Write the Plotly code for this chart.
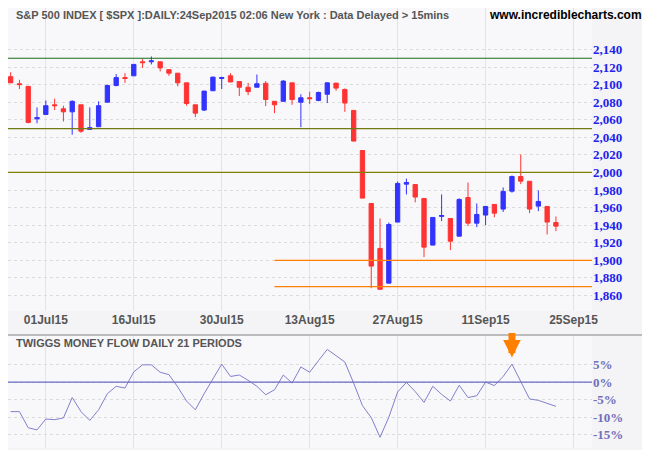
import plotly.graph_objects as go

opens = [2109, 2101, 2098, 2061, 2066, 2077, 2072.5, 2069, 2077, 2049, 2052, 2080, 2099, 2108, 2110, 2126,
         2126, 2126, 2117, 2113, 2102, 2077, 2071, 2093, 2107, 2110, 2103.5, 2097, 2097, 2101.5, 2081, 2081,
         2102, 2080, 2085, 2082, 2089, 2101.7, 2094.5, 2070.6, 2025, 1964.7, 1913.5, 1874, 1943.5, 1986.7,
         1986.3, 1970.4, 1917.3, 1950, 1947.6, 1927.5, 1971.5, 1942.3, 1951.5, 1963.6, 1958.3, 1978.7, 1995.4,
         1990, 1961.7, 1961.3, 1943]
highs = [2114, 2105.5, 2098, 2074, 2082, 2084, 2076, 2082, 2077, 2074, 2081, 2100, 2112, 2113, 2123, 2129,
         2132, 2126, 2117, 2113, 2102, 2077, 2093, 2109, 2109, 2113, 2103.5, 2102, 2111.5, 2104, 2081, 2105,
         2102, 2089, 2092, 2092, 2102.5, 2101.7, 2095.6, 2070.6, 2025, 1964.7, 1947.6, 1943, 1989.7, 1993,
         1986.3, 1970.4, 1948.8, 1975, 1947.6, 1970.5, 1988.6, 1964.7, 1961.3, 1963.6, 1982.9, 1996.5, 2020.5,
         1990, 1979.5, 1961.3, 1949.9]
lows = [2102, 2095, 2056, 2056, 2066, 2071, 2058, 2043, 2045, 2049, 2052, 2080, 2098, 2102, 2110, 2119,
        2123, 2115, 2110, 2098, 2076, 2063, 2070, 2093, 2095, 2103, 2087, 2088, 2097, 2075.5, 2067.5, 2081,
        2077, 2051.6, 2078, 2081, 2079, 2093, 2069, 2035.7, 1970.8, 1868.3, 1867, 1874, 1943.5, 1975,
        1966, 1903.6, 1917.3, 1944.6, 1911.6, 1927.5, 1938.9, 1937.8, 1940, 1949, 1955, 1977, 1986.7,
        1953.7, 1956, 1929.4, 1933.2]
closes = [2102, 2100, 2057, 2062.5, 2076, 2076, 2069, 2081, 2047, 2051, 2076, 2099, 2108, 2107, 2123, 2125,
          2127, 2119, 2113, 2102, 2078.5, 2067.5, 2092.6, 2108.5, 2108, 2103, 2097, 2092, 2101, 2083, 2077, 2104,
          2083, 2085, 2084, 2091, 2102, 2096, 2079, 2035.7, 1970.8, 1893.4, 1867, 1940.8, 1987.5, 1988.6,
          1972, 1915, 1948.8, 1951, 1921.8, 1969.3, 1942.3, 1952.2, 1961.3, 1953.7, 1978.4, 1995.4, 1990.1,
          1958.3, 1967, 1943.5, 1938.9]
money_flow = [-8.4, -8.4, -13.0, -13.6, -10.5, -10.7, -10.2, -4.4, -8.4, -10.9, -7.9, -3.3, -1.2, -1.7, 2.9,
              4.9, 4.9, 2.8, 2.1, -1.4, -5.4, -7.9, -3.3, 0.9, 5.1, 1.6, 2.0, 0.5, -1.2, -3.6, -2.2, 2.0, -0.3,
              4.3, 2.8, 6.1, 9.3, 7.5, 5.7, -0.3, -6.7, -10.1, -15.7, -10.0, -2.8, -0.1, -2.7, -5.8, -1.2,
              -3.5, -5.4, -0.9, -4.4, -3.9, 0.0, -1.0, 1.6, 5.1, 0.2, -4.8, -5.2, -6.0, -6.9]
tick_idx = [4, 14, 24, 34, 44, 54, 64]
tick_text = ["01Jul15", "16Jul15", "30Jul15", "13Aug15", "27Aug15", "11Sep15", "25Sep15"]
price_ticks = list(range(1860, 2141, 20))
mf_ticks = [5, 0, -5, -10, -15]
mf_text = ["5%", "0%", "-5%", "-10%", "-15%"]
full_lines = [(2130, "#1a6b1a"), (2050, "#707a10"), (2000, "#808000")]
support_lines = [1900, 1870]
support_start = 30
arrow_idx = 57

# the page adds an 8px body margin, so the figure is 8px smaller and everything is laid out shifted
W, H = 642, 442
PW = 584
idx = list(range(len(closes)))
xr = [-0.3, 66.1]

fig = go.Figure()
fig.add_trace(go.Candlestick(
    x=idx, open=opens, high=highs, low=lows, close=closes,
    increasing=dict(line=dict(color="#3333ff", width=1), fillcolor="#3333ff"),
    decreasing=dict(line=dict(color="#ff3333", width=1), fillcolor="#ff3333"),
    whiskerwidth=0, showlegend=False, xaxis="x", yaxis="y"))
fig.add_trace(go.Scatter(x=idx, y=money_flow, mode="lines", line=dict(color="#8080cc", width=1),
                         showlegend=False, xaxis="x2", yaxis="y2"))

for lvl, col in full_lines:
    fig.add_shape(type="line", xref="x", yref="y", x0=xr[0], x1=xr[1], y0=lvl, y1=lvl,
                  line=dict(color=col, width=1.2))
for lvl in support_lines:
    fig.add_shape(type="line", xref="x", yref="y", x0=support_start, x1=xr[1], y0=lvl, y1=lvl,
                  line=dict(color="#ff8000", width=1.2))
fig.add_shape(type="line", xref="x2", yref="y2", x0=xr[0], x1=xr[1], y0=0, y1=0,
              line=dict(color="#6a6ac4", width=1.2))
fig.add_shape(type="line", xref="paper", yref="paper", x0=0, x1=W / PW, y0=1 - 327 / H, y1=1 - 327 / H,
              line=dict(color="#aaaaaa", width=1.5))

fig.add_annotation(xref="x2", yref="y2", x=arrow_idx, y=7.0, ax=0, ay=-26, showarrow=True,
                   arrowcolor="#ff8000", arrowwidth=7, arrowhead=2, arrowsize=0.5, text="")

grid = dict(showgrid=True, gridcolor="#e4e4e8", zeroline=False)
fig.update_layout(
    width=W, height=H, margin=dict(l=0, r=W - PW, t=0, b=0),
    paper_bgcolor="#f4f4f6", plot_bgcolor="#f8f8fa",
    font=dict(family="Liberation Sans, Arial", size=12),
    xaxis=dict(domain=[0, 1], range=xr, tickvals=tick_idx, ticktext=["<b>%s</b>" % t for t in tick_text],
               rangeslider=dict(visible=False), tickfont=dict(color="#555555", size=12), ticks="",
               anchor="y", **grid),
    yaxis=dict(domain=[1 - 303 / H, 1], range=[1842.3, 2187.2], side="right",
               tickvals=price_ticks, ticktext=["<b>{:,}</b>".format(v) for v in price_ticks],
               tickfont=dict(color="#2222ee", size=13, family="Liberation Serif, serif"),
               showgrid=True, gridcolor="#dcdcdc", griddash="dot", zeroline=False, anchor="x"),
    xaxis2=dict(domain=[0, 1], range=xr, tickvals=tick_idx, showticklabels=False, anchor="y2", **grid),
    yaxis2=dict(domain=[1 - 440 / H, 1 - 328 / H], range=[-18.75, 13.1], side="right",
                tickvals=mf_ticks, ticktext=["<b>%s</b>" % t for t in mf_text],
                tickfont=dict(color="#7070b8", size=13, family="Liberation Serif, serif"),
                showgrid=True, gridcolor="#dcdcdc", griddash="dot", zeroline=False, anchor="x2"),
)
fig.add_annotation(xref="paper", yref="paper", x=6 / PW, y=1 - 7 / H, xanchor="left", yanchor="middle",
                   showarrow=False, text="<b>S&P 500 INDEX [ $SPX ]:DAILY:24Sep2015 02:06 New York : Data Delayed > 15mins</b>",
                   font=dict(color="#555555", size=11))
fig.add_annotation(xref="paper", yref="paper", x=636 / PW, y=1 - 7 / H, xanchor="right", yanchor="middle",
                   showarrow=False, text="<b>www.incrediblecharts.com</b>", font=dict(color="#000000", size=12))
fig.add_annotation(xref="paper", yref="paper", x=6 / PW, y=1 - 335 / H, xanchor="left", yanchor="middle",
                   showarrow=False, text="<b>TWIGGS MONEY FLOW DAILY 21 PERIODS</b>", font=dict(color="#555555", size=11))

fig.write_html("out.html")
